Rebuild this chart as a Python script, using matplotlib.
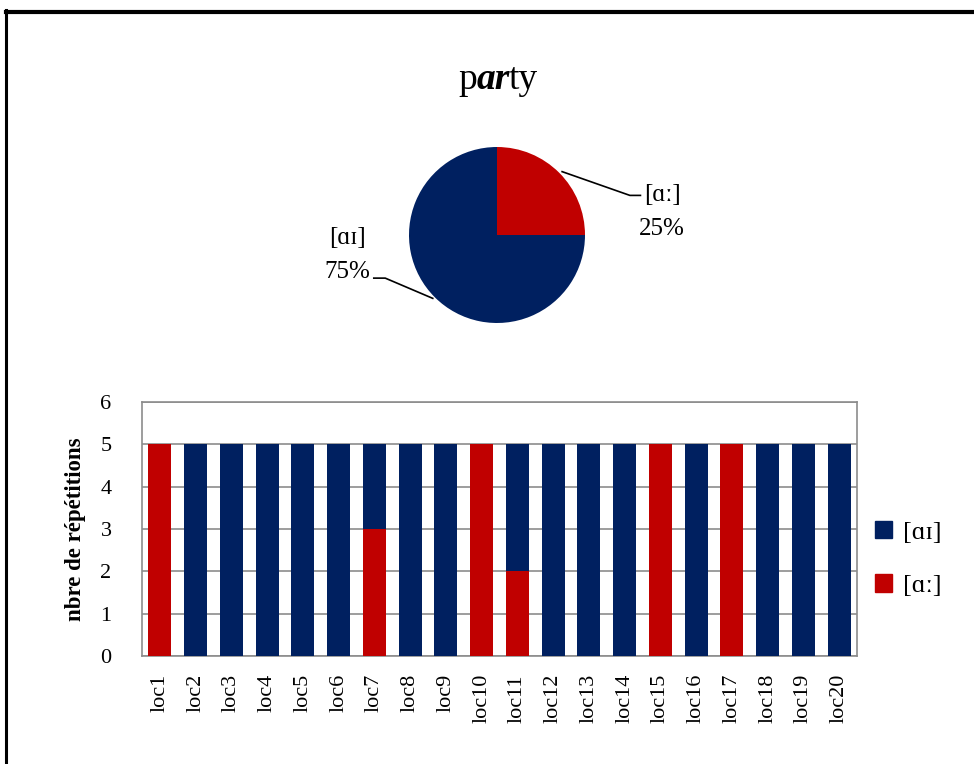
import numpy as np
import matplotlib.pyplot as plt
from matplotlib.lines import Line2D
from matplotlib.patches import Patch

plt.rcParams['font.family'] = ['Liberation Serif', 'DejaVu Serif']

locs = ['loc%d' % i for i in range(1, 21)]
aa = [5, 0, 0, 0, 0, 0, 3, 0, 0, 5, 2, 0, 0, 0, 5, 0, 5, 0, 0, 0]   # [ɑː]
ai = [0, 5, 5, 5, 5, 5, 2, 5, 5, 0, 3, 5, 5, 5, 0, 5, 0, 5, 5, 5]   # [ɑɪ]
pie_labels = ['[ɑɪ]', '[ɑː]']
pie_vals = [75, 25]

blue = '#002060'
red = '#C00000'

W, H = 974, 764
fig = plt.figure(figsize=(W / 100, H / 100), dpi=100)

# frame lines
fig.add_artist(Line2D([6 / W, 1], [1 - 12 / H, 1 - 12 / H], color='black', lw=3, transform=fig.transFigure))
fig.add_artist(Line2D([6 / W, 6 / W], [0, 1 - 10 / H], color='black', lw=2.2, transform=fig.transFigure))

# title "party" with bold italic "ar"
t1 = fig.text(458 / W, 1 - 89 / H, 'p', fontsize=27, ha='left', va='baseline')
t2 = fig.text(0, 0, 'ar', fontsize=27, fontweight='bold', fontstyle='italic')
t3 = fig.text(0, 0, 'ty', fontsize=27)
fig.canvas.draw()
r = fig.canvas.get_renderer()
bb1 = t1.get_window_extent(r)
t2.set_position(((bb1.x1) / W, 1 - 89 / H))
bb2 = t2.get_window_extent(r)
t3.set_position(((bb2.x1 - 1) / W, 1 - 89 / H))

# pie, 1 unit = 88 px
R = 88
cx, cy = 497, 235
pw, ph = 400, 220
axp = fig.add_axes([(cx - pw / 2) / W, (H - cy - ph / 2) / H, pw / W, ph / H])
axp.pie(pie_vals, colors=[blue, red], startangle=90, counterclock=True, radius=1,
        wedgeprops=dict(linewidth=0))
axp.set_xlim(-pw / 2 / R, pw / 2 / R)
axp.set_ylim(-ph / 2 / R, ph / 2 / R)
axp.set_aspect('equal')
axp.axis('off')

axp.plot([0.74, 1.51, 1.63], [0.72, 0.45, 0.45], color='black', lw=1.2)
axp.text(1.88, 0.45, pie_labels[1], ha='center', va='center', fontsize=18)
axp.text(1.87, 0.07, '%d%%' % pie_vals[1], ha='center', va='center', fontsize=18)
axp.plot([-0.73, -1.27, -1.40], [-0.72, -0.49, -0.49], color='black', lw=1.2)
axp.text(-1.70, -0.03, pie_labels[0], ha='center', va='center', fontsize=18)
axp.text(-1.70, -0.42, '%d%%' % pie_vals[0], ha='center', va='center', fontsize=18)

# stacked bar chart
ax = fig.add_axes([142 / W, (H - 656) / H, (857 - 142) / W, (656 - 402) / H])
x = np.arange(len(locs))
ax.bar(x, aa, width=0.65, color=red, label=pie_labels[1], zorder=3)
ax.bar(x, ai, width=0.65, bottom=aa, color=blue, label=pie_labels[0], zorder=3)
ax.set_xlim(-0.5, len(locs) - 0.5)
ax.set_ylim(0, 6)
ax.set_yticks(range(7))
ax.set_yticklabels([str(v) for v in range(7)], fontsize=16)
ax.set_xticks(x)
ax.set_xticklabels(locs, rotation=90, fontsize=16)
ax.tick_params(axis='y', length=0, pad=22)
ax.tick_params(axis='x', length=0, pad=13)
ax.yaxis.grid(True, color='#8c8c8c', lw=1.2, zorder=0)
for s in ax.spines.values():
    s.set_color('#8c8c8c')
    s.set_linewidth(1.2)
ax.set_ylabel('nbre de répétitions', fontsize=16.5, fontweight='bold', labelpad=10)

handles = [Patch(color=blue), Patch(color=red)]
fig.legend(handles, pie_labels, loc='center left', bbox_to_anchor=(875 / W, (H - 559) / H),
           frameon=False, fontsize=19, handlelength=0.65, handleheight=0.65,
           labelspacing=1.15, handletextpad=0.4, borderaxespad=0, borderpad=0)

fig.savefig('out.png', dpi=100)
